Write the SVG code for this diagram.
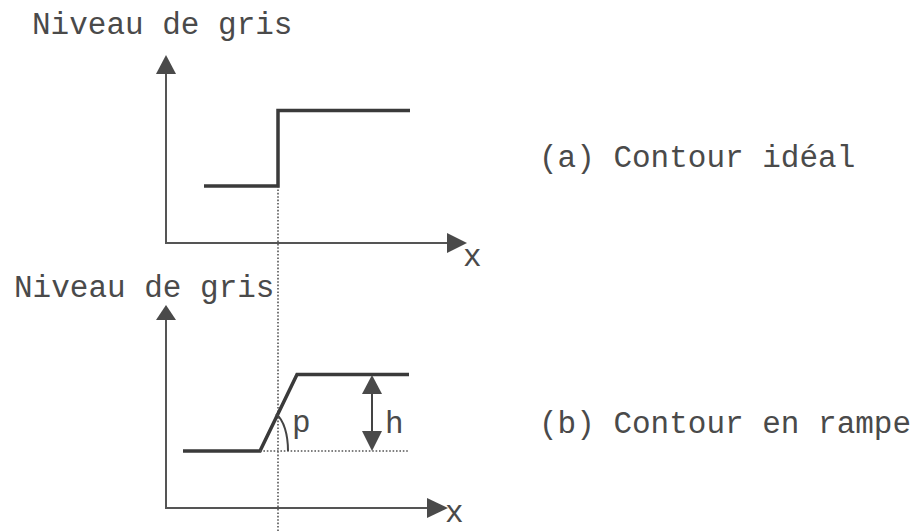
<svg xmlns="http://www.w3.org/2000/svg" width="920" height="531" viewBox="0 0 920 531">
<defs>
<style>
text{font-family:"Liberation Mono","Courier New",monospace;font-size:31px;fill:#4a4a4a}
.axis{stroke:#555;stroke-width:2;fill:none}
.sig{stroke:#3a3a3a;stroke-width:3.5;fill:none;stroke-linejoin:miter}
.dot{stroke:#555;stroke-width:1.6;stroke-dasharray:1.6 1.8;fill:none}
.thin{stroke:#444;stroke-width:2;fill:none}
.head{fill:#4a4a4a}
</style>
</defs>
<rect width="920" height="531" fill="#fff"/>
<g id="connectors">
<line class="dot" x1="278" y1="186" x2="278" y2="531"/>
</g>
<g id="graph-a">
<text x="32" y="34">Niveau de gris</text>
<polyline class="axis" points="166,72 166,243 448,243"/>
<polygon class="head" points="166,55 156,74 176,74"/>
<polygon class="head" points="467,243 447,233 447,253"/>
<text x="463" y="266">x</text>
<polyline class="sig" points="204,186 278,186 278,110.5 410,110.5"/>
</g>
<g id="label-a">
<text x="539" y="167">(a) Contour idéal</text>
</g>
<g id="graph-b">
<text x="14" y="297">Niveau de gris</text>
<polyline class="axis" points="166,318 166,508 428,508"/>
<polygon class="head" points="166,305 156,320 176,320"/>
<polygon class="head" points="448,508 427,498 427,518"/>
<text x="445" y="522">x</text>
<polyline class="sig" points="183,451 260,451 297,374.5 409,374.5"/>
<line class="dot" x1="260" y1="451" x2="409" y2="451"/>
<path class="thin" d="M276,414 C284,420 288,435 288,451"/>
<text x="292" y="432">p</text>
<line class="thin" x1="372" y1="390" x2="372" y2="435"/>
<polygon class="head" points="372,375 362,394 382,394"/>
<polygon class="head" points="372,451 362,431 382,431"/>
<text x="385" y="433">h</text>
</g>
<g id="label-b">
<text x="539" y="433">(b) Contour en rampe</text>
</g>
</svg>
